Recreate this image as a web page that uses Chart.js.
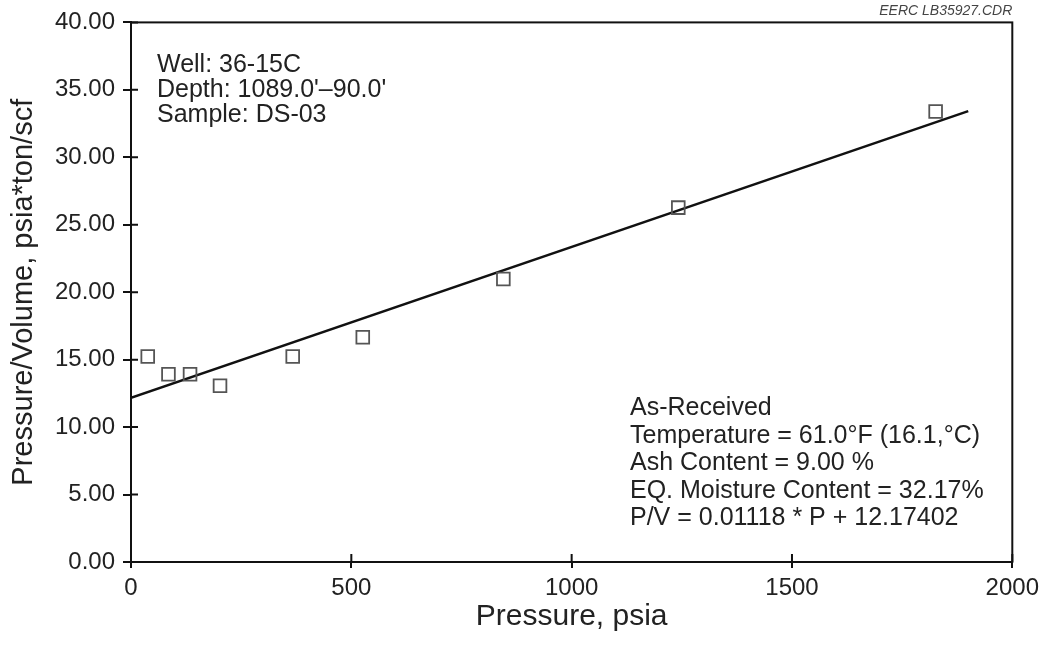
<!DOCTYPE html>
<html>
<head>
<meta charset="utf-8">
<script src="https://cdn.jsdelivr.net/npm/chart.js@4.4.0/dist/chart.umd.min.js"></script>
<style>
  html, body { margin: 0; padding: 0; background: #fff; }
</style>
</head>
<body>
<canvas id="pvChart" width="1045" height="648"></canvas>
<script>
// measured points (pressure, psia vs P/V)
const pressure = [38, 85, 134, 202, 367, 526, 845, 1242, 1826];
const pOverV = [15.23, 13.92, 13.92, 13.06, 15.23, 16.66, 20.98, 26.27, 33.40];

// regression line end points
const fitPressure = [0, 1900];
const fitPOverV = [12.17, 33.42];

const xTicks = [0, 500, 1000, 1500, 2000];
const yTicks = [0, 5, 10, 15, 20, 25, 30, 35, 40];

const infoTopLeft = ["Well: 36-15C", "Depth: 1089.0'\u201390.0'", "Sample: DS-03"];
const infoBottomRight = [
  "As-Received",
  "Temperature = 61.0\u00b0F (16.1,\u00b0C)",
  "Ash Content = 9.00 %",
  "EQ. Moisture Content = 32.17%",
  "P/V = 0.01118 * P + 12.17402"
];
const fileTag = "EERC LB35927.CDR";

const FONT = "'Liberation Sans', Arial, Helvetica, sans-serif";
const TEXT = "#222";

// frame, inner tick halves and text blocks
const decorations = {
  id: "decorations",
  afterDraw(chart) {
    const ctx = chart.ctx;
    const a = chart.chartArea;
    const xs = chart.scales.x;
    const ys = chart.scales.y;
    ctx.save();
    ctx.strokeStyle = "#111";
    ctx.lineWidth = 2;
    ctx.strokeRect(a.left, a.top, a.right - a.left, a.bottom - a.top);

    ctx.beginPath();
    xTicks.forEach((v) => {
      const px = xs.getPixelForValue(v);
      ctx.moveTo(px, a.bottom);
      ctx.lineTo(px, a.bottom - 8);
    });
    yTicks.forEach((v) => {
      const py = ys.getPixelForValue(v);
      ctx.moveTo(a.left, py);
      ctx.lineTo(a.left + 7, py);
    });
    ctx.stroke();

    ctx.fillStyle = TEXT;
    ctx.font = "25px " + FONT;
    ctx.textAlign = "left";
    ctx.textBaseline = "middle";
    infoTopLeft.forEach((t, i) => {
      ctx.fillText(t, a.left + 26, a.top + 43 + i * 25);
    });
    infoBottomRight.forEach((t, i) => {
      ctx.fillText(t, a.left + 499, a.top + 386 + i * 27.5);
    });

    ctx.fillStyle = "#444";
    ctx.font = "italic 14px " + FONT;
    ctx.textAlign = "right";
    ctx.textBaseline = "alphabetic";
    ctx.fillText(fileTag, a.right, 15);
    ctx.restore();
  }
};

new Chart(document.getElementById("pvChart"), {
  type: "scatter",
  data: {
    datasets: [
      {
        label: "P/V",
        data: pressure.map((p, i) => ({ x: p, y: pOverV[i] })),
        pointStyle: "rect",
        pointRadius: 9,
        pointBorderWidth: 1.8,
        pointBorderColor: "#555",
        pointBackgroundColor: "rgba(255,255,255,0)",
        showLine: false,
        clip: false
      },
      {
        label: "Fit",
        data: fitPressure.map((p, i) => ({ x: p, y: fitPOverV[i] })),
        showLine: true,
        borderColor: "#111",
        borderWidth: 2.5,
        pointRadius: 0,
        fill: false
      }
    ]
  },
  options: {
    responsive: false,
    animation: false,
    layout: { autoPadding: false, padding: { top: 21, right: 32, left: 0, bottom: 0 } },
    plugins: {
      legend: { display: false },
      tooltip: { enabled: false }
    },
    scales: {
      x: {
        type: "linear",
        min: 0,
        max: 2000,
        afterBuildTicks: (scale) => { scale.ticks = xTicks.map((v) => ({ value: v })); },
        afterFit: (scale) => { scale.height = 86; },
        grid: { drawOnChartArea: false, drawTicks: true, tickLength: 6, color: "#111", lineWidth: 2 },
        border: { display: true, color: "#111", width: 2 },
        ticks: {
          color: TEXT,
          font: { family: FONT, size: 24 },
          padding: 6,
          callback: (v) => String(v)
        },
        title: {
          display: true,
          text: "Pressure, psia",
          color: TEXT,
          font: { family: FONT, size: 30 },
          padding: { top: 0, bottom: 13 }
        }
      },
      y: {
        type: "linear",
        min: 0,
        max: 40,
        afterBuildTicks: (scale) => { scale.ticks = yTicks.map((v) => ({ value: v })); },
        afterFit: (scale) => { scale.width = 131; },
        grid: { drawOnChartArea: false, drawTicks: true, tickLength: 8, color: "#111", lineWidth: 2 },
        border: { display: true, color: "#111", width: 2 },
        ticks: {
          color: TEXT,
          font: { family: FONT, size: 24 },
          padding: 8,
          callback: (v) => Number(v).toFixed(2)
        },
        title: {
          display: true,
          text: "Pressure/Volume, psia*ton/scf",
          color: TEXT,
          font: { family: FONT, size: 29 },
          padding: { top: 7, bottom: 0 }
        }
      }
    }
  },
  plugins: [decorations]
});
</script>
</body>
</html>
